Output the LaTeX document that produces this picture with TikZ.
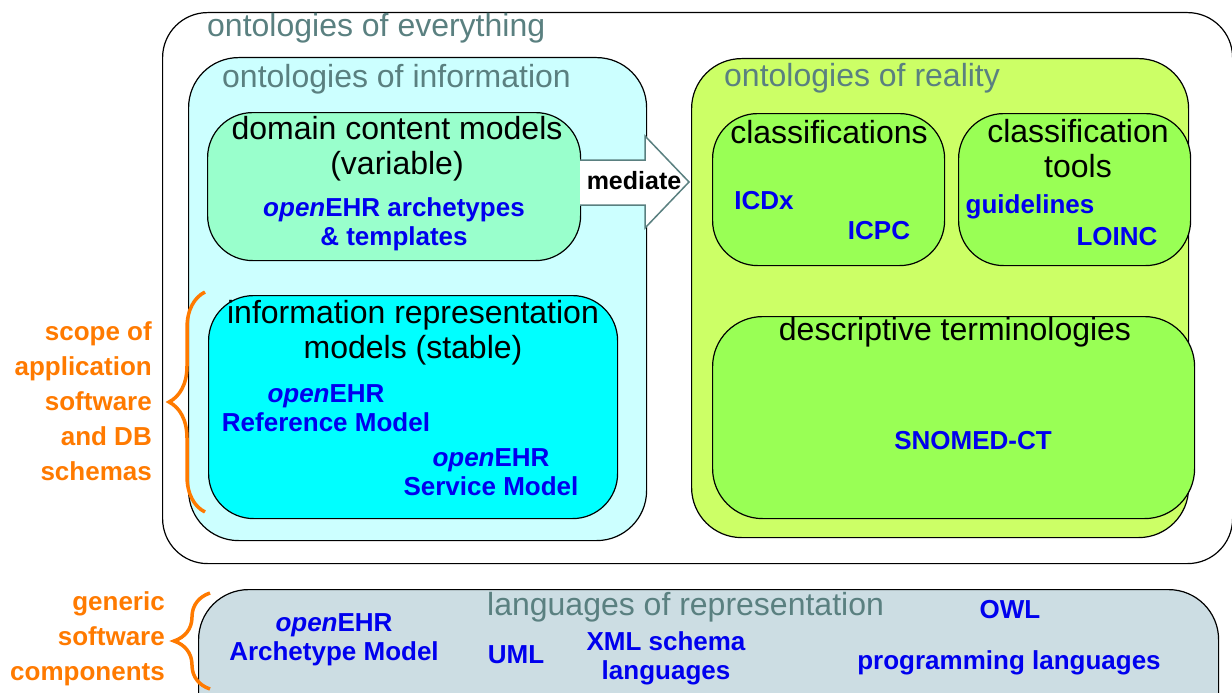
\documentclass[tikz,border=0pt]{standalone}
\usepackage{fontspec}
\setmainfont{Liberation Sans}
\usetikzlibrary{positioning,decorations.pathreplacing}
\definecolor{infocyan}{RGB}{204,255,255}
\definecolor{realgreen}{RGB}{204,255,102}
\definecolor{domainmint}{RGB}{153,255,204}
\definecolor{reprcyan}{RGB}{0,255,255}
\definecolor{termgreen}{RGB}{153,255,85}
\definecolor{langgray}{RGB}{204,221,227}
\definecolor{titlegray}{RGB}{90,128,128}
\definecolor{itemblue}{RGB}{0,0,238}
\definecolor{scopeorange}{RGB}{255,122,0}
\newcommand{\openehr}{\textit{open}EHR}

\begin{document}
\begin{tikzpicture}[x=1pt, y=-1pt,
    box/.style={draw, line width=1.2pt, rounded corners=45pt, anchor=north west, inner sep=0pt},
    title/.style={text=titlegray, font=\fontsize{32}{36}\selectfont, inner sep=0pt, anchor=west},
    head/.style={font=\fontsize{32}{35}\selectfont, align=center, inner sep=0pt},
    item/.style={text=itemblue, font=\fontsize{26}{29}\selectfont\bfseries, align=center, inner sep=0pt},
    scope/.style={text=scopeorange, font=\fontsize{26}{35}\selectfont\bfseries, align=right, inner sep=0pt, anchor=east},
    curly/.style={draw=scopeorange, line width=3.5pt, decorate, decoration={brace, amplitude=36pt}}]
    \useasboundingbox (0,0) rectangle (1232,693);

    % containers
    \node[box, minimum width=1070pt, minimum height=551pt] (everything) at (162,12) {};
    \node[box, fill=infocyan, rounded corners=50pt, minimum width=458pt, minimum height=483pt] (info) at (188,57) {};
    \node[box, fill=realgreen, rounded corners=50pt, minimum width=497pt, minimum height=479pt] (reality) at (691,58) {};
    \node[box, fill=domainmint, minimum width=373pt, minimum height=148pt] (domain) at (207,112) {};
    \node[box, fill=reprcyan, minimum width=409pt, minimum height=223pt] (repr) at (208,295) {};
    \node[box, fill=termgreen, minimum width=232pt, minimum height=152pt] (classif) at (712,113) {};
    \node[box, fill=termgreen, minimum width=232pt, minimum height=152pt] (tools) at (958,113) {};
    \node[box, fill=termgreen, rounded corners=50pt, minimum width=482pt, minimum height=202pt] (descr) at (712,316) {};
    \node[box, fill=langgray, rounded corners=50pt, minimum width=1020pt, minimum height=200pt] (langs) at (198,589) {};

    % mediate arrow
    \filldraw[fill=white, draw=titlegray, line width=1.5pt]
        (580,160) -- (645,160) -- (645,136) -- (689,182) -- (645,228) -- (645,205) -- (580,205);
    \node[font=\fontsize{25}{28}\selectfont\bfseries, inner sep=0pt] (mediate) at (634,181) {mediate};

    % titles
    \node[title] (t-every) at (207,28) {ontologies of everything};
    \node[title] (t-info) at (222,79) {ontologies of information};
    \node[title] (t-real) at (724,78) {ontologies of reality};
    \node[title] (t-lang) at (487,607) {languages of representation};

    \node[head] (h-domain) at (397,149) {domain content models\\(variable)};
    \node[head] (h-repr) at (413,333) {information representation\\models (stable)};
    \node[head] (h-classif) at (829,132) {classifications};
    \node[head] (h-tools) at (1078,149) {classification\\tools};
    \node[head] (h-descr) at (955,332) {descriptive terminologies};

    % contents
    \node[item] (archetypes) at (394,224) {\openehr{} archetypes\\\& templates};
    \node[item] (refmodel) at (326,408) {\openehr\\Reference Model};
    \node[item] (svcmodel) at (491,472) {\openehr\\Service Model};
    \node[item] (icdx) at (764,201) {ICDx};
    \node[item] (icpc) at (879,231) {ICPC};
    \node[item] (guide) at (1030,207) {guidelines};
    \node[item] (loinc) at (1117,237) {LOINC};
    \node[item] (snomed) at (973,441) {SNOMED-CT};
    \node[item] (amodel) at (334,640) {\openehr\\Archetype Model};
    \node[item] (uml) at (516,655) {UML};
    \node[item] (xml) at (666,658) {XML schema\\languages};
    \node[item] (owl) at (1010,610) {OWL};
    \node[item] (proglang) at (1009,663) {programming languages};

    % scope braces
    \node[scope] (appscope) at (152,401) {scope of\\application\\software\\and DB\\schemas};
    \node[scope] (genscope) at (165,639) {generic\\software\\components};
    \draw[curly] (205,512) -- (205,292);
    \draw[curly] (210,689) -- (210,593);
\end{tikzpicture}
\end{document}
